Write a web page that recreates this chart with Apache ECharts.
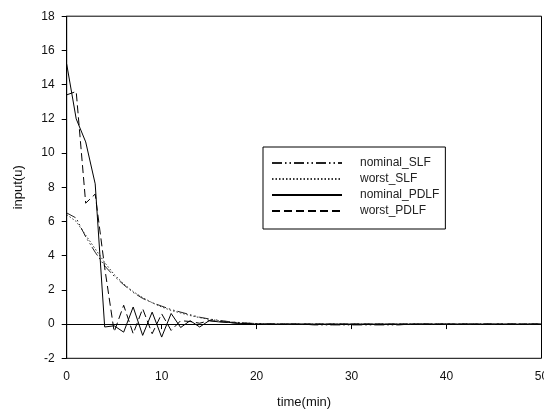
<!DOCTYPE html>
<html>
<head>
<meta charset="utf-8">
<script src="https://cdn.jsdelivr.net/npm/echarts@6/dist/echarts.min.js"></script>
<style>html,body{margin:0;padding:0;background:#fff}#c{width:544px;height:414px}</style>
</head>
<body>
<div id="c"></div>
<script>
var time = [];
for (var t = 0; t <= 50; t++) time.push(t);

var seriesNames = ['nominal_SLF', 'worst_SLF', 'nominal_PDLF', 'worst_PDLF'];
var xTicks = [0, 10, 20, 30, 40, 50];
var yTicks = [-2, 0, 2, 4, 6, 8, 10, 12, 14, 16, 18];

var nominalSLF = [6.5, 6.2, 5.1, 4.2, 3.4, 2.8, 2.3, 1.85, 1.5, 1.25, 1.05, 0.85, 0.7, 0.55, 0.4, 0.3, 0.22, 0.15, 0.1, 0.06, 0.03, 0.01, 0, 0, 0, 0,
  -0.05, -0.05, -0.05, -0.05, -0.05, -0.05, -0.05, -0.05, -0.05, -0.05, 0, 0, 0, 0, 0, 0, 0, 0, 0, 0, 0, 0, 0, 0, 0];
var worstSLF = [6.4, 6.0, 5.2, 4.4, 3.6, 2.9, 2.35, 1.9, 1.55, 1.25, 1.0, 0.8, 0.65, 0.5, 0.38, 0.28, 0.2, 0.14, 0.09, 0.06, 0.03, 0.01, 0, 0, 0, 0,
  0, 0, 0, 0, 0, 0, 0, 0, 0, 0, 0, 0, 0, 0, 0, 0, 0, 0, 0, 0, 0, 0, 0, 0, 0];
var nominalPDLF = [15.2, 12.0, 10.65, 8.2, -0.17, -0.1, -0.47, 1.0, -0.66, 0.7, -0.76, 0.62, -0.2, 0.2, -0.17, 0.2, 0.13, 0.1, 0.05, 0.02, 0, 0, 0, 0, 0, 0,
  0, 0, 0, 0, 0, 0, 0, 0, 0, 0, 0, 0, 0, 0, 0, 0, 0, 0, 0, 0, 0, 0, 0, 0, 0];
var worstPDLF = [13.4, 13.6, 7.07, 7.6, 3.3, -0.45, 1.1, -0.56, 0.9, -0.56, 0.6, -0.37, 0.2, 0.15, 0.05, 0.2, 0.15, 0.1, 0.05, 0.02, 0, 0, 0, 0, 0, 0,
  0, 0, 0, 0, 0, 0, 0, 0, 0, 0, 0, 0, 0, 0, 0, 0, 0, 0, 0, 0, 0, 0, 0, 0, 0];

function pairs(arr) { return time.map(function (t, i) { return [t, arr[i]]; }); }

var FONT = 'Liberation Sans';
var styles = [
  { type: [10, 3, 1.5, 3, 1.5, 3], width: 1, color: '#222' },
  { type: [1.5, 2], width: 1, color: '#333' },
  { type: 'solid', width: 1, color: '#000' },
  { type: [8, 4], width: 1, color: '#000' }
];
var values = [nominalSLF, worstSLF, nominalPDLF, worstPDLF];

var chart = echarts.init(document.getElementById('c'), null, { renderer: 'canvas' });
chart.setOption({
  animation: false,
  backgroundColor: '#fff',
  textStyle: { fontFamily: FONT },
  grid: { left: 66.7, right: 2.5, top: 16.2, bottom: 55.7, show: true, borderColor: '#000', borderWidth: 1,
    containLabel: false, outerBoundsMode: 'none' },
  legend: {
    orient: 'vertical', left: 263, top: 147,
    borderColor: '#000', borderWidth: 1,
    padding: [10, 6, 12, 8],
    itemWidth: 70, itemHeight: 10, itemGap: 4,
    itemStyle: { opacity: 0 },
    textStyle: { fontFamily: FONT, fontSize: 12, color: '#222', padding: [0, 0, 0, 13] },
    data: seriesNames
  },
  xAxis: {
    type: 'value', min: 0, max: 50, interval: 10,
    name: 'time(min)', nameLocation: 'middle', nameGap: 38,
    nameTextStyle: { fontFamily: FONT, fontSize: 13, color: '#111' },
    axisLine: { lineStyle: { color: '#000', width: 1 } },
    axisTick: { show: true, inside: false, length: 5, lineStyle: { color: '#000' } },
    axisLabel: { fontFamily: FONT, fontSize: 12, color: '#111', margin: 12, hideOverlap: false,
      formatter: function (v) { return xTicks.indexOf(v) >= 0 ? String(v) : ''; } },
    splitLine: { show: false }
  },
  yAxis: {
    type: 'value', min: -2, max: 18, interval: 2,
    name: 'input(u)', nameLocation: 'middle', nameGap: 42,
    nameTextStyle: { fontFamily: FONT, fontSize: 13, color: '#111' },
    axisLine: { show: true, lineStyle: { color: '#000', width: 1 } },
    axisTick: { show: true, inside: false, length: 5, lineStyle: { color: '#000' } },
    axisLabel: { fontFamily: FONT, fontSize: 12, color: '#111', margin: 12,
      formatter: function (v) { return yTicks.indexOf(v) >= 0 ? String(v) : ''; } },
    splitLine: { show: false }
  },
  series: seriesNames.map(function (n, i) {
    return {
      name: n, type: 'line', data: pairs(values[i]),
      symbol: 'none', showSymbol: false,
      lineStyle: { color: styles[i].color, width: styles[i].width, type: styles[i].type },
      itemStyle: { color: styles[i].color },
      z: 2 + i
    };
  })
});
</script>
</body>
</html>
